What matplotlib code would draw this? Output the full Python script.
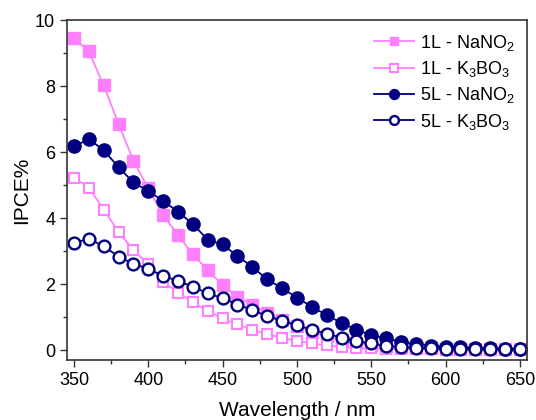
import matplotlib.pyplot as plt
import numpy as np
from matplotlib.ticker import MultipleLocator

plt.rcParams['font.family'] = ['Liberation Sans', 'DejaVu Sans']
plt.rcParams['mathtext.fontset'] = 'custom'
plt.rcParams['mathtext.rm'] = 'Liberation Sans'
plt.rcParams['mathtext.it'] = 'Liberation Sans'

wl = np.arange(350, 651, 10)

# 1L - NaNO2
l1_nano2 = [9.45, 9.05, 8.02, 6.85, 5.74, 4.9, 4.09, 3.48, 2.9, 2.42, 1.97,
            1.62, 1.36, 1.12, 0.9, 0.72, 0.55, 0.42, 0.3, 0.22, 0.16,
            0.12, 0.09, 0.07, 0.05, 0.04, 0.03, 0.03, 0.02, 0.02, 0.02]
# 1L - K3BO3
l1_k3bo3 = [5.23, 4.92, 4.26, 3.58, 3.03, 2.61, 2.07, 1.74, 1.45, 1.18, 0.96,
            0.78, 0.61, 0.48, 0.37, 0.28, 0.2, 0.14, 0.09, 0.06, 0.05,
            0.04, 0.03, 0.03, 0.02, 0.02, 0.02, 0.01, 0.01, 0.01, 0.01]
# 5L - NaNO2
l5_nano2 = [6.18, 6.39, 6.06, 5.54, 5.08, 4.82, 4.52, 4.19, 3.82, 3.34, 3.2,
            2.85, 2.52, 2.14, 1.87, 1.59, 1.31, 1.06, 0.82, 0.62, 0.45,
            0.35, 0.25, 0.18, 0.13, 0.1, 0.08, 0.06, 0.05, 0.04, 0.04]
# 5L - K3BO3
l5_k3bo3 = [3.25, 3.37, 3.15, 2.83, 2.61, 2.46, 2.25, 2.09, 1.92, 1.72, 1.57,
            1.38, 1.21, 1.03, 0.88, 0.76, 0.61, 0.5, 0.37, 0.27, 0.2,
            0.13, 0.09, 0.07, 0.05, 0.04, 0.03, 0.03, 0.03, 0.03, 0.03]

pink = '#ff80ff'
navy = '#000080'

fig = plt.figure(figsize=(5.36, 4.2), dpi=100)
ax = fig.add_axes([0.125, 0.143, 0.858, 0.809])

ax.plot(wl, l1_nano2, color=pink, lw=1.3, marker='s', ms=8.5, mfc=pink, mec=pink,
        label='1L - NaNO$_2$')
ax.plot(wl, l1_k3bo3, color=pink, lw=1.3, marker='s', ms=7.5, mfc='white', mec=pink, mew=1.5,
        label='1L - K$_3$BO$_3$')
ax.plot(wl, l5_nano2, color=navy, lw=1.3, marker='o', ms=9.5, mfc=navy, mec=navy,
        label='5L - NaNO$_2$')
ax.plot(wl, l5_k3bo3, color=navy, lw=1.3, marker='o', ms=8.5, mfc='white', mec=navy, mew=1.7,
        label='5L - K$_3$BO$_3$')

ax.set_xlim(345.3, 654.7)
ax.set_ylim(-0.3, 10)
ax.xaxis.set_major_locator(MultipleLocator(50))
ax.xaxis.set_minor_locator(MultipleLocator(25))
ax.yaxis.set_major_locator(MultipleLocator(2))
ax.yaxis.set_minor_locator(MultipleLocator(1))
ax.tick_params(which='major', direction='out', length=5, width=1, labelsize=13, colors='#333333')
ax.tick_params(which='minor', direction='out', length=3, width=1, colors='#333333')
ax.tick_params(labelcolor='black')
for s in ax.spines.values():
    s.set_color('#333333')
    s.set_linewidth(1.2)

ax.set_xlabel('Wavelength / nm', fontsize=15, labelpad=9)
ax.set_ylabel('IPCE%', fontsize=15, labelpad=3)

leg = ax.legend(loc='upper right', frameon=False, fontsize=13, handlelength=2.2,
                handletextpad=0.3, labelspacing=0.35, borderaxespad=0.3, markerscale=0.75)

fig.savefig('out.png', dpi=100)
